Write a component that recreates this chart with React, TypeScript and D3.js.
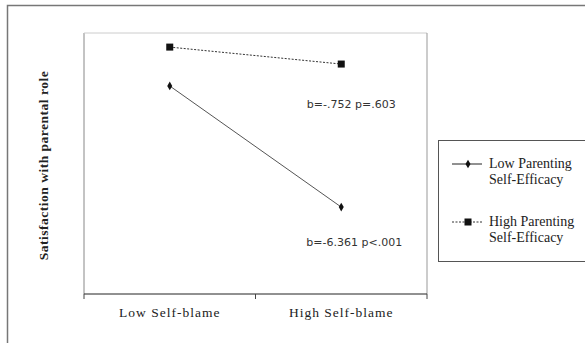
import React from 'react'
import * as d3 from 'd3'

// categories on the x axis
const categories = ['Low Self-blame', 'High Self-blame']
// estimated relative satisfaction (no y ticks in the original)
const lowEfficacy = [7.97, 3.33]
const highEfficacy = [9.46, 8.81]
const seriesNames = ['Low Parenting Self-Efficacy', 'High Parenting Self-Efficacy']
const annotations = ['b=-.752 p=.603', 'b=-6.361 p<.001']

const W = 585
const H = 343
const margin = { top: 33, right: 158, bottom: 49, left: 84 }

export default function App() {
  const width = W - margin.left - margin.right
  const height = H - margin.top - margin.bottom

  const x = d3.scaleBand().domain(categories).range([0, width]).padding(0)
  const y = d3.scaleLinear().domain([0, 10]).range([height, 0])
  const cx = (c: string) => (x(c) || 0) + x.bandwidth() / 2

  const line = d3.line<number>()
    .x((d, i) => cx(categories[i]))
    .y(d => y(d))

  const serif = '"Liberation Serif", "Times New Roman", serif'
  const sans = '"DejaVu Sans", Verdana, sans-serif'
  const tickXs = [0, x.bandwidth(), width]
  const [lowA, lowB] = seriesNames[0].split(' Self')
  const [highA] = seriesNames[1].split(' Self')

  return (
    <svg width={W} height={H} style={{ position: 'absolute', left: 0, top: 0, background: '#fff' }}>
      {/* outer frame */}
      <rect x={7.5} y={5.5} width={W} height={H} fill="none" stroke="#777" strokeWidth={1.5} />
      <g transform={`translate(${margin.left},${margin.top})`}>
        {/* plot frame */}
        <line x1={0} y1={0} x2={0} y2={height} stroke="#888" />
        <line x1={0} y1={0} x2={width} y2={0} stroke="#ccc" />
        <line x1={width} y1={0} x2={width} y2={height} stroke="#999" />
        {/* x axis */}
        <line x1={0} y1={height} x2={width} y2={height} stroke="#222" />
        {tickXs.map((t, i) => (
          <line key={i} x1={t} y1={height} x2={t} y2={height + 5} stroke="#444" />
        ))}
        {categories.map(c => (
          <text key={c} x={cx(c)} y={height + 23} textAnchor="middle" fontFamily={serif}
            fontSize={13.5} letterSpacing={1} fill="#222">{c}</text>
        ))}
        {/* series */}
        <path d={line(lowEfficacy) || ''} fill="none" stroke="#555" strokeWidth={1} />
        <path d={line(highEfficacy) || ''} fill="none" stroke="#333" strokeWidth={1} strokeDasharray="2,1.5" />
        {lowEfficacy.map((v, i) => (
          <path key={i} d={d3.symbol(d3.symbolDiamond, 22)() || ''}
            transform={`translate(${cx(categories[i])},${y(v)})`} fill="#111" />
        ))}
        {highEfficacy.map((v, i) => (
          <rect key={i} x={cx(categories[i]) - 3.5} y={y(v) - 3.5} width={7} height={7} fill="#111" />
        ))}
        {/* annotations */}
        <text x={cx(categories[1]) + 10} y={75} textAnchor="middle" fontFamily={sans} fontSize={11} fill="#333">{annotations[0]}</text>
        <text x={cx(categories[1]) + 13} y={213} textAnchor="middle" fontFamily={sans} fontSize={11} fill="#333">{annotations[1]}</text>
      </g>
      {/* y axis title */}
      <text transform={`translate(48,${margin.top + height / 2 + 2}) rotate(-90)`} textAnchor="middle"
        fontFamily={serif} fontWeight="bold" fontSize={13.5} letterSpacing={0.5} fill="#222">Satisfaction with parental role</text>
      {/* legend */}
      <g>
        <rect x={438.5} y={140.5} width={160} height={121} fill="none" stroke="#555" />
        <line x1={452} y1={164} x2={482} y2={164} stroke="#222" />
        <path d={d3.symbol(d3.symbolDiamond, 22)() || ''} transform="translate(468,164)" fill="#111" />
        <text x={489} y={168} fontFamily={serif} fontSize={14} fill="#222">{lowA}</text>
        <text x={489} y={184} fontFamily={serif} fontSize={14} fill="#222">{'Self' + lowB}</text>
        <line x1={452} y1={222} x2={482} y2={222} stroke="#333" strokeDasharray="2,1.5" />
        <rect x={464.5} y={218.5} width={7} height={7} fill="#111" />
        <text x={489} y={226} fontFamily={serif} fontSize={14} fill="#222">{highA}</text>
        <text x={489} y={242} fontFamily={serif} fontSize={14} fill="#222">{'Self' + lowB}</text>
      </g>
    </svg>
  )
}
